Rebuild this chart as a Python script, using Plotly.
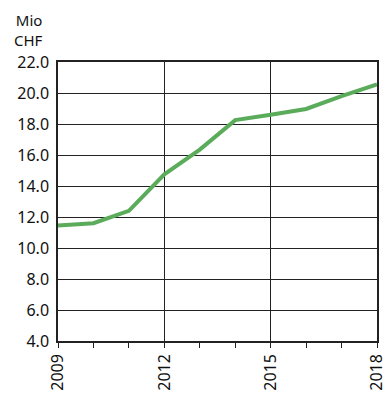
import plotly.graph_objects as go

years = [2009, 2010, 2011, 2012, 2013, 2014, 2015, 2016, 2017, 2018]
values = [11.45, 11.6, 12.4, 14.75, 16.35, 18.25, 18.6, 18.97, 19.8, 20.55]
y_ticks = [4, 6, 8, 10, 12, 14, 16, 18, 20, 22]
y_tick_text = [f"{v:.1f}" for v in y_ticks]
x_ticks = [2009, 2012, 2015, 2018]

FONT = "Noto Sans"

fig = go.Figure()
fig.add_trace(go.Scatter(
    x=years, y=values, mode="lines",
    line=dict(color="#5aab5a", width=4),
    showlegend=False, hoverinfo="skip",
))

fig.update_layout(
    width=391, height=401,
    margin=dict(l=58, r=14, t=62, b=60),
    plot_bgcolor="white", paper_bgcolor="white",
    font=dict(family=FONT, size=16, color="#111111"),
    xaxis=dict(
        range=[2009, 2018],
        tickmode="array", tickvals=x_ticks, ticktext=[str(v) for v in x_ticks],
        tickangle=-90, automargin=False,
        showgrid=True, gridcolor="#222222", gridwidth=1,
        showline=True, linecolor="#222222", linewidth=1.5, mirror=True,
        zeroline=False,
        minor=dict(ticks="outside", ticklen=5, tickcolor="#222222", dtick=1, showgrid=False),
        ticks="outside", ticklen=5, tickcolor="#222222",
        fixedrange=True,
    ),
    yaxis=dict(
        range=[4, 22], automargin=False,
        tickmode="array", tickvals=y_ticks, ticktext=y_tick_text,
        showgrid=True, gridcolor="#222222", gridwidth=1,
        showline=True, linecolor="#222222", linewidth=1.5, mirror=True,
        zeroline=False, ticks="", ticklabelstandoff=4,
        fixedrange=True,
    ),
    annotations=[dict(
        text="Mio<br>CHF", xref="paper", yref="paper",
        x=-0.04, y=1.0, yshift=54, xanchor="right", yanchor="top",
        align="right", showarrow=False, font=dict(family=FONT, size=15),
    )],
)

fig.write_html("out.html")
